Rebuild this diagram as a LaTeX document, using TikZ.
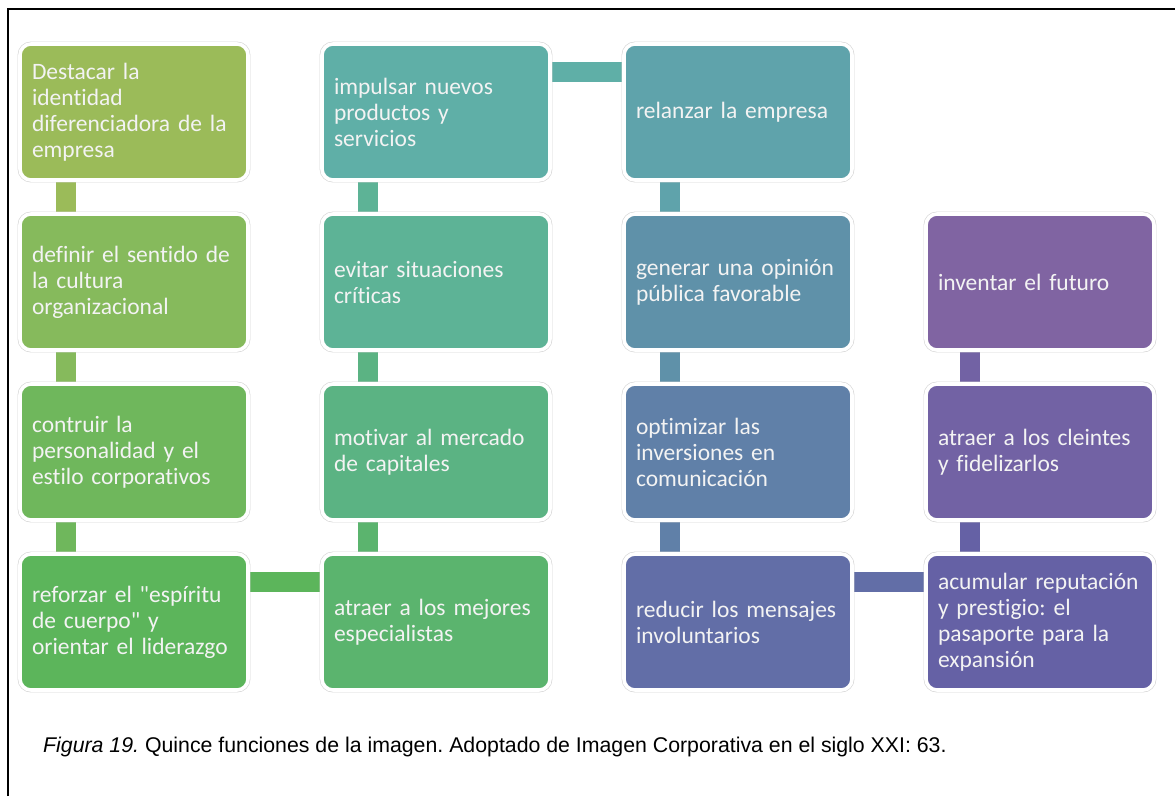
\documentclass[tikz,border=0pt]{standalone}
\usepackage{fontspec}
\setmainfont{Carlito}[Ligatures={TeXOff,CommonOff}, WordSpace=0.8]
\newfontfamily\arialfont{Liberation Sans}
\usetikzlibrary{backgrounds}
\frenchspacing

\definecolor{tonoA}{HTML}{9BBB59}
\definecolor{tonoB}{HTML}{86BA5C}
\definecolor{tonoC}{HTML}{6FB75C}
\definecolor{tonoD}{HTML}{5CB55B}
\definecolor{tonoE}{HTML}{5BB46E}
\definecolor{tonoF}{HTML}{5BB383}
\definecolor{tonoG}{HTML}{5DB396}
\definecolor{tonoH}{HTML}{5FAFA7}
\definecolor{tonoI}{HTML}{5FA3AB}
\definecolor{tonoJ}{HTML}{5F91A9}
\definecolor{tonoK}{HTML}{6080A8}
\definecolor{tonoL}{HTML}{626EA7}
\definecolor{tonoM}{HTML}{6561A5}
\definecolor{tonoN}{HTML}{7262A4}
\definecolor{tonoO}{HTML}{8064A2}
\definecolor{textoc}{HTML}{F3F3F3}

\begin{document}
\begin{tikzpicture}[x=1pt,y=-1pt,
    caja/.style={rounded corners=11pt, minimum width=228pt, minimum height=136pt,
        inner xsep=12pt, inner ysep=0pt, text width=204pt, align=left, text=textoc,
        font=\fontsize{23.5}{26}\selectfont,
        preaction={draw=black!17, line width=4.8pt},
        draw=white, line width=3.6pt}]
    \useasboundingbox (0,0) rectangle (1175,796);
    % marco
    \draw[line width=2pt] (8,796) -- (8,9) -- (1175,9);

    % columna 1
    \node[caja, fill=tonoA] (d1) at (134,112) {Destacar la\\identidad\\diferenciadora de la\\empresa};
    \node[caja, fill=tonoB] (d2) at (134,282) {definir el sentido de\\la cultura\\organizacional};
    \node[caja, fill=tonoC] (d3) at (134,452) {contruir la\\personalidad y el\\estilo corporativos};
    \node[caja, fill=tonoD] (d4) at (134,622) {reforzar el "espíritu\\de cuerpo" y\\orientar el liderazgo};
    % columna 2
    \node[caja, fill=tonoE] (d5) at (436,622) {atraer a los mejores\\especialistas};
    \node[caja, fill=tonoF] (d6) at (436,452) {motivar al mercado\\de capitales};
    \node[caja, fill=tonoG] (d7) at (436,282) {evitar situaciones\\críticas};
    \node[caja, fill=tonoH] (d8) at (436,112) {impulsar nuevos\\productos y\\servicios};
    % columna 3
    \node[caja, fill=tonoI] (d9) at (738,112) {relanzar la empresa};
    \node[caja, fill=tonoJ] (d10) at (738,282) {generar una opinión\\pública favorable};
    \node[caja, fill=tonoK] (d11) at (738,452) {optimizar las\\inversiones en\\comunicación};
    \node[caja, fill=tonoL] (d12) at (738,622) {reducir los mensajes\\involuntarios};
    % columna 4
    \node[caja, fill=tonoM] (d13) at (1040,622) {acumular reputación\\y prestigio: el\\pasaporte para la\\expansión};
    \node[caja, fill=tonoN] (d14) at (1040,452) {atraer a los cleintes\\y fidelizarlos};
    \node[caja, fill=tonoO] (d15) at (1040,282) {inventar el futuro};

    \begin{pgfonlayer}{background}
        \fill[tonoA] ([xshift=38pt]d1.south west) rectangle ([xshift=58pt]d2.north west);
        \fill[tonoB] ([xshift=38pt]d2.south west) rectangle ([xshift=58pt]d3.north west);
        \fill[tonoC] ([xshift=38pt]d3.south west) rectangle ([xshift=58pt]d4.north west);
        \fill[tonoD] ([yshift=-20pt]d4.north east) rectangle ([yshift=-40pt]d5.north west);
        \fill[tonoE] ([xshift=38pt]d5.north west) rectangle ([xshift=58pt]d6.south west);
        \fill[tonoF] ([xshift=38pt]d6.north west) rectangle ([xshift=58pt]d7.south west);
        \fill[tonoG] ([xshift=38pt]d7.north west) rectangle ([xshift=58pt]d8.south west);
        \fill[tonoH] ([yshift=-20pt]d8.north east) rectangle ([yshift=-40pt]d9.north west);
        \fill[tonoI] ([xshift=38pt]d9.south west) rectangle ([xshift=58pt]d10.north west);
        \fill[tonoJ] ([xshift=38pt]d10.south west) rectangle ([xshift=58pt]d11.north west);
        \fill[tonoK] ([xshift=38pt]d11.south west) rectangle ([xshift=58pt]d12.north west);
        \fill[tonoL] ([yshift=-20pt]d12.north east) rectangle ([yshift=-40pt]d13.north west);
        \fill[tonoM] ([xshift=36pt]d13.north west) rectangle ([xshift=56pt]d14.south west);
        \fill[tonoN] ([xshift=36pt]d14.north west) rectangle ([xshift=56pt]d15.south west);
    \end{pgfonlayer}

    \node[anchor=base west, inner sep=0pt, text=black,
        font=\arialfont\fontsize{21.3}{25}\selectfont] (pie) at (43,752)
        {\textit{Figura 19.} Quince funciones de la imagen. Adoptado de Imagen Corporativa en el siglo XXI: 63.};
\end{tikzpicture}
\end{document}
